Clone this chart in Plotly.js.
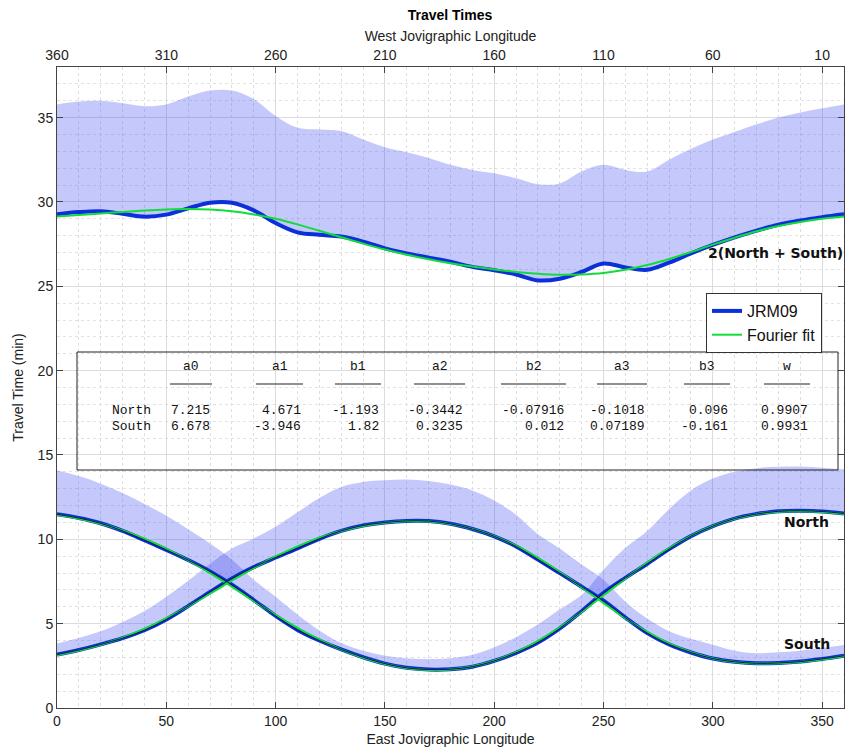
<!DOCTYPE html>
<html>
<head>
<meta charset="utf-8">
<script src="https://cdn.plot.ly/plotly-3.0.1.min.js"></script>
<style>
  html, body { margin: 0; padding: 0; background: #fff; }
  #chart { width: 848px; height: 748px; }
</style>
</head>
<body>
<div id="chart"></div>
<script>
// ---------------- DATA ----------------
const eastLon = [0,10,20,30,40,50,60,70,80,90,100,110,120,130,140,150,160,170,180,
                 190,200,210,220,230,240,250,260,270,280,290,300,310,320,330,340,350,360];

// JRM09 travel times (min)
const northJRM = [11.48,11.26,10.95,10.50,9.95,9.37,8.77,8.10,7.31,6.40,5.46,4.63,4.00,3.47,
                  3.01,2.63,2.38,2.28,2.30,2.45,2.79,3.27,3.88,4.72,5.74,6.82,7.71,8.55,9.42,
                  10.19,10.78,11.23,11.50,11.66,11.69,11.65,11.53];
const southJRM = [3.17,3.44,3.77,4.14,4.61,5.25,6.04,6.88,7.68,8.35,8.92,9.46,10.03,10.50,
                  10.82,11.00,11.09,11.08,10.92,10.61,10.18,9.58,8.80,8.00,7.19,6.36,5.36,4.44,
                  3.77,3.29,2.93,2.74,2.65,2.67,2.75,2.91,3.10];
const sumJRM   = [29.27,29.40,29.45,29.30,29.13,29.25,29.62,29.95,29.95,29.50,28.75,28.20,28.05,
                  27.95,27.65,27.25,26.95,26.70,26.45,26.15,25.95,25.70,25.35,25.45,25.85,26.35,
                  26.12,25.98,26.40,26.95,27.45,27.90,28.30,28.65,28.90,29.10,29.27];

// Fourier fit curves (min)
const northFit = [11.44,11.22,10.92,10.53,10.04,9.45,8.76,8.00,7.18,6.34,5.52,4.75,4.06,3.46,
                  2.98,2.61,2.36,2.25,2.28,2.46,2.80,3.31,3.98,4.78,5.70,6.68,7.67,8.62,9.48,
                  10.21,10.79,11.22,11.49,11.64,11.67,11.62,11.50];
const southFit = [3.13,3.40,3.74,4.17,4.70,5.33,6.03,6.78,7.55,8.29,8.98,9.58,10.09,10.49,
                  10.79,10.98,11.07,11.05,10.90,10.62,10.19,9.62,8.90,8.06,7.15,6.22,5.32,4.51,
                  3.83,3.31,2.94,2.73,2.64,2.65,2.73,2.88,3.07];
const sumFit   = [29.13,29.23,29.32,29.41,29.49,29.55,29.58,29.55,29.45,29.26,29.00,28.67,28.29,
                  27.91,27.53,27.18,26.87,26.60,26.37,26.17,26.00,25.85,25.74,25.68,25.70,25.79,
                  25.98,26.26,26.62,27.03,27.47,27.88,28.26,28.57,28.81,29.00,29.14];

// Upper edges of the shaded ranges (min)
const northUpper = [14.08,13.75,13.30,12.75,12.10,11.40,10.60,9.75,8.80,7.60,6.60,5.55,4.60,3.85,
                    3.40,3.10,2.95,2.90,2.95,3.15,3.60,4.20,4.95,5.85,6.70,8.20,9.50,10.50,11.80,
                    12.90,13.60,14.00,14.22,14.30,14.32,14.25,14.15];
const southUpper = [3.83,4.15,4.55,5.10,5.75,6.60,7.55,8.55,9.45,10.05,10.75,11.60,12.45,13.10,
                    13.40,13.50,13.55,13.45,13.25,12.90,12.30,11.45,10.30,9.45,8.50,7.60,6.30,5.30,
                    4.55,4.10,3.75,3.40,3.25,3.30,3.40,3.55,3.73];
const sumUpper   = [35.78,35.95,36.00,35.85,35.68,35.78,36.25,36.60,36.60,36.10,35.10,34.40,34.30,
                    34.20,33.70,33.25,32.95,32.60,32.20,31.90,31.70,31.40,31.05,31.10,31.80,32.20,
                    31.90,31.80,32.50,33.15,33.70,34.15,34.60,35.00,35.30,35.55,35.78];

// Axis ticks
const eastTicks = [0,50,100,150,200,250,300,350];
const westTicks = [360,310,260,210,160,110,60,10];
const timeTicks = [0,5,10,15,20,25,30,35];

// Fourier coefficient table
const tableHeaders = ['a0','a1','b1','a2','b2','a3','b3','w'];
const northCoefs = ['7.215','4.671','-1.193','-0.3442','-0.07916','-0.1018','0.096','0.9907'];
const southCoefs = ['6.678','-3.946','1.82','0.3235','0.012','0.07189','-0.161','0.9931'];
const rowLabels = ['North','South'];

// ---------------- STYLE / LAYOUT ----------------
const W = 848, H = 748;
const M = {l: 57, r: 4, t: 67, b: 40};
const PW = W - M.l - M.r, PH = H - M.t - M.b;
const px2paperX = p => (p - M.l) / PW;
const py2paperY = p => (H - M.b - p) / PH;

const bandColor = 'rgba(62,72,240,0.30)';
const blue = '#0b2fd8';
const green = '#12dc3c';
const dark = '#0a1650';
const sans = 'Liberation Sans, Arial, Helvetica, sans-serif';
const mono = 'Liberation Mono, Courier New, monospace';

function edge(y) {
  return {x: eastLon, y: y, mode: 'lines', line: {width: 0, color: 'rgba(0,0,0,0)', shape: 'spline'},
          showlegend: false, hoverinfo: 'skip'};
}
function band(y) {
  return {x: eastLon, y: y, mode: 'lines', fill: 'tonexty', fillcolor: bandColor,
          line: {width: 0, color: 'rgba(0,0,0,0)', shape: 'spline'}, showlegend: false, hoverinfo: 'skip'};
}
function line(y, color, width, name, show) {
  return {x: eastLon, y: y, mode: 'lines', name: name || '', showlegend: !!show,
          line: {color: color, width: width, shape: 'spline', smoothing: 1}, hoverinfo: 'skip'};
}

const traces = [
  edge(sumJRM), band(sumUpper),
  edge(northJRM), band(northUpper),
  edge(southJRM), band(southUpper),
  line(sumJRM, blue, 4, 'JRM09', true),
  line(northJRM, blue, 4),
  line(southJRM, blue, 4),
  line(sumFit, green, 2, 'Fourier fit', true),
  line(northFit, green, 2),
  line(southFit, green, 2),
  line(northJRM, dark, 1),
  line(southJRM, dark, 1),
  {x: [westTicks[0], 0], y: [null, null], xaxis: 'x2', mode: 'lines', showlegend: false, hoverinfo: 'skip'}
];

// Table geometry (pixel positions of each column's underline)
const colLeft  = [170, 256, 335, 414, 501, 597, 684, 764];
const colRight = [212, 303, 381, 465, 566, 647, 730, 810];
const yHeader = 366, yRule = 384, yRows = [410, 426], xRowLabel = 110;

const annotations = [];
const shapes = [];
tableHeaders.forEach((h, i) => {
  annotations.push({xref: 'paper', yref: 'paper', x: px2paperX((colLeft[i] + colRight[i]) / 2),
    y: py2paperY(yHeader), text: h, showarrow: false, xanchor: 'center', yanchor: 'middle',
    font: {family: mono, size: 13, color: '#111'}});
  shapes.push({type: 'line', xref: 'paper', yref: 'paper', x0: px2paperX(colLeft[i]), x1: px2paperX(colRight[i]),
    y0: py2paperY(yRule), y1: py2paperY(yRule), line: {color: '#222', width: 1.2}});
  [northCoefs, southCoefs].forEach((row, r) => {
    annotations.push({xref: 'paper', yref: 'paper', x: px2paperX(colRight[i]), y: py2paperY(yRows[r]),
      text: row[i], showarrow: false, xanchor: 'right', yanchor: 'middle',
      font: {family: mono, size: 13, color: '#111'}});
  });
});
rowLabels.forEach((lab, r) => {
  annotations.push({xref: 'paper', yref: 'paper', x: px2paperX(xRowLabel), y: py2paperY(yRows[r]),
    text: lab, showarrow: false, xanchor: 'left', yanchor: 'middle',
    font: {family: mono, size: 13, color: '#111'}});
});
// table frame
shapes.push({type: 'rect', xref: 'paper', yref: 'paper', x0: px2paperX(77), x1: px2paperX(838),
  y0: py2paperY(470), y1: py2paperY(352), line: {color: '#222', width: 1}, fillcolor: 'rgba(0,0,0,0)'});

// curve labels
const labelFont = {family: 'DejaVu Sans, Verdana, sans-serif', size: 14, color: '#111'};
annotations.push({xref: 'paper', yref: 'paper', x: px2paperX(706), y: py2paperY(253), text: '<b>2(North + South)</b>',
  showarrow: false, xanchor: 'left', yanchor: 'middle', font: labelFont});
annotations.push({xref: 'paper', yref: 'paper', x: px2paperX(782), y: py2paperY(522), text: '<b>North</b>',
  showarrow: false, xanchor: 'left', yanchor: 'middle', font: labelFont});
annotations.push({xref: 'paper', yref: 'paper', x: px2paperX(782), y: py2paperY(644), text: '<b>South</b>',
  showarrow: false, xanchor: 'left', yanchor: 'middle', font: labelFont});

const axisCommon = {
  showline: true, linecolor: '#444', linewidth: 1,
  ticks: 'inside', ticklen: 6, tickwidth: 1, tickcolor: '#444',
  tickfont: {family: sans, size: 14, color: '#222'},
  zeroline: false
};

const layout = {
  width: W, height: H,
  margin: M,
  paper_bgcolor: '#fff', plot_bgcolor: '#fff',
  hovermode: false,
  title: {text: '<b>Travel Times</b>', font: {family: sans, size: 14, color: '#000'},
          x: 450 / W, xanchor: 'center', y: 1 - 15 / H, yanchor: 'middle', yref: 'container'},
  xaxis: Object.assign({}, axisCommon, {
    range: [0, 360], tickvals: eastTicks, ticktext: eastTicks.map(String),
    showgrid: true, gridcolor: '#dcdcdc', gridwidth: 1,
    minor: {dtick: 10, showgrid: true, gridcolor: '#dedede', griddash: 'dot', ticks: ''},
    title: {text: 'East Jovigraphic Longitude', font: {family: sans, size: 14, color: '#222'}, standoff: 6}
  }),
  xaxis2: Object.assign({}, axisCommon, {
    overlaying: 'x', side: 'top', anchor: 'y',
    range: [360, 0], tickvals: westTicks, ticktext: westTicks.map(String),
    showgrid: false,
    title: {text: 'West Jovigraphic Longitude', font: {family: sans, size: 14, color: '#222'}, standoff: 2}
  }),
  yaxis: Object.assign({}, axisCommon, {
    range: [0, 38], tickvals: timeTicks, ticktext: timeTicks.map(String),
    mirror: 'ticks',
    showgrid: true, gridcolor: '#dcdcdc', gridwidth: 1,
    minor: {dtick: 1, showgrid: true, gridcolor: '#e2e2e2', griddash: 'dot', ticks: ''},
    title: {text: 'Travel Time (min)', font: {family: sans, size: 14, color: '#222'}, standoff: 10}
  }),
  legend: {
    x: px2paperX(822), y: py2paperY(293), xanchor: 'right', yanchor: 'top',
    bgcolor: '#fff', bordercolor: '#333', borderwidth: 1,
    font: {family: sans, size: 16, color: '#111'},
    itemwidth: 30, tracegroupgap: 0, traceorder: 'normal'
  },
  annotations: annotations,
  shapes: shapes
};

Plotly.newPlot('chart', traces, layout, {displayModeBar: false, staticPlot: true});
</script>
</body>
</html>
